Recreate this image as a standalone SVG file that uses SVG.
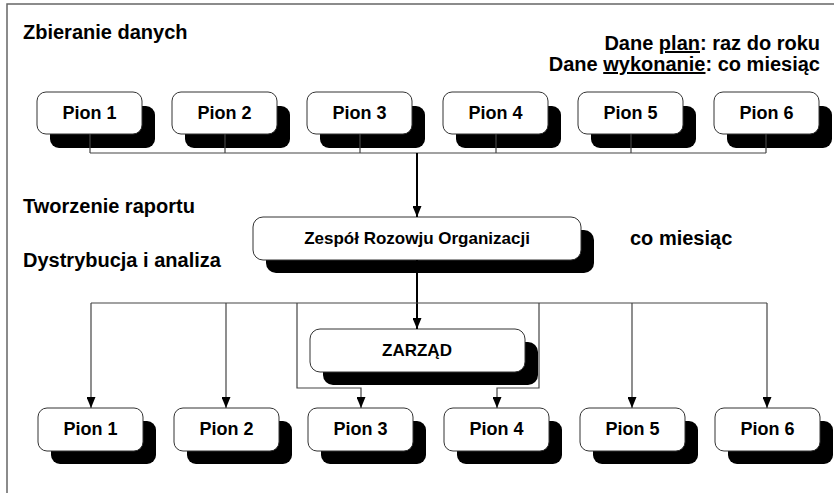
<svg xmlns="http://www.w3.org/2000/svg" width="834" height="493" viewBox="0 0 834 493">
  <style>
    .lbl { font-family: "Liberation Sans", Arial, sans-serif; font-weight: bold; font-size: 20px; fill: #000; }
    .box { fill: #fff; stroke: #333; stroke-width: 1; }
    .shadow { fill: #000; }
    .btxt { font-family: "Liberation Sans", Arial, sans-serif; font-weight: bold; font-size: 17px; fill: #000; text-anchor: middle; }
    .pion { font-size: 18px; }
    .thin { fill: none; stroke: #444; stroke-width: 1.2; }
    .thick { fill: none; stroke: #000; stroke-width: 2; }
    .frame { fill: none; stroke: #666; stroke-width: 1.5; }
  </style>
  <defs>
    <marker id="ah" markerUnits="userSpaceOnUse" markerWidth="11" markerHeight="9" refX="11" refY="4.5" orient="auto" viewBox="0 0 11 9">
      <path d="M0,0 L11,4.5 L0,9 Z" fill="#000"/>
    </marker>
  </defs>

  <rect width="834" height="493" fill="#fff"/>
  <!-- page frame (top and left edges) -->
  <path class="frame" d="M7,493 V4 H834"/>

  <!-- section headings -->
  <text class="lbl" x="23" y="39">Zbieranie danych</text>
  <text class="lbl" x="820" y="50" text-anchor="end">Dane <tspan text-decoration="underline">plan</tspan>: raz do roku</text>
  <text class="lbl" x="820" y="71" text-anchor="end">Dane <tspan text-decoration="underline">wykonanie</tspan>: co miesiąc</text>
  <text class="lbl" x="23" y="213">Tworzenie raportu</text>
  <text class="lbl" x="23" y="267">Dystrybucja i analiza</text>
  <text class="lbl" x="630" y="245">co miesiąc</text>

  <!-- top row: data sources -->
  <g id="top-pion-1"><rect class="shadow" x="50" y="106" width="105" height="42" rx="9"/><rect class="box" x="37" y="92" width="105" height="42" rx="9"/><text class="btxt pion" x="89.5" y="119">Pion 1</text></g>
  <g id="top-pion-2"><rect class="shadow" x="185" y="106" width="105" height="42" rx="9"/><rect class="box" x="172" y="92" width="105" height="42" rx="9"/><text class="btxt pion" x="224.5" y="119">Pion 2</text></g>
  <g id="top-pion-3"><rect class="shadow" x="320" y="106" width="105" height="42" rx="9"/><rect class="box" x="307" y="92" width="105" height="42" rx="9"/><text class="btxt pion" x="359.5" y="119">Pion 3</text></g>
  <g id="top-pion-4"><rect class="shadow" x="456" y="106" width="105" height="42" rx="9"/><rect class="box" x="443" y="92" width="105" height="42" rx="9"/><text class="btxt pion" x="495.5" y="119">Pion 4</text></g>
  <g id="top-pion-5"><rect class="shadow" x="591" y="106" width="105" height="42" rx="9"/><rect class="box" x="578" y="92" width="105" height="42" rx="9"/><text class="btxt pion" x="630.5" y="119">Pion 5</text></g>
  <g id="top-pion-6"><rect class="shadow" x="727" y="106" width="105" height="42" rx="9"/><rect class="box" x="714" y="92" width="105" height="42" rx="9"/><text class="btxt pion" x="766.5" y="119">Pion 6</text></g>

  <!-- report team -->
  <g id="zro"><rect class="shadow" x="266" y="230" width="328" height="43" rx="10"/><rect class="box" x="253" y="217" width="328" height="43" rx="10"/><text class="btxt" x="417" y="244">Zespół Rozowju Organizacji</text></g>

  <!-- board -->
  <g id="zarzad"><rect class="shadow" x="323" y="342" width="215" height="43" rx="10"/><rect class="box" x="310" y="329" width="215" height="43" rx="10"/><text class="btxt" x="417" y="356">ZARZĄD</text></g>

  <!-- bottom row: recipients -->
  <g id="bot-pion-1"><rect class="shadow" x="51" y="421" width="105" height="43" rx="9"/><rect class="box" x="38" y="408" width="105" height="43" rx="9"/><text class="btxt pion" x="90.5" y="435">Pion 1</text></g>
  <g id="bot-pion-2"><rect class="shadow" x="187" y="421" width="105" height="43" rx="9"/><rect class="box" x="174" y="408" width="105" height="43" rx="9"/><text class="btxt pion" x="226.5" y="435">Pion 2</text></g>
  <g id="bot-pion-3"><rect class="shadow" x="321" y="421" width="105" height="43" rx="9"/><rect class="box" x="308" y="408" width="105" height="43" rx="9"/><text class="btxt pion" x="360.5" y="435">Pion 3</text></g>
  <g id="bot-pion-4"><rect class="shadow" x="457" y="421" width="105" height="43" rx="9"/><rect class="box" x="444" y="408" width="105" height="43" rx="9"/><text class="btxt pion" x="496.5" y="435">Pion 4</text></g>
  <g id="bot-pion-5"><rect class="shadow" x="593" y="421" width="105" height="43" rx="9"/><rect class="box" x="580" y="408" width="105" height="43" rx="9"/><text class="btxt pion" x="632.5" y="435">Pion 5</text></g>
  <g id="bot-pion-6"><rect class="shadow" x="728" y="421" width="105" height="43" rx="9"/><rect class="box" x="715" y="408" width="105" height="43" rx="9"/><text class="btxt pion" x="767.5" y="435">Pion 6</text></g>

  <!-- connectors -->
  <g id="connectors">
    <!-- collection bus -->
    <path class="thin" d="M90,134 V153 M225,134 V153 M360,134 V153 M496,134 V153 M631,134 V153 M766,134 V153 M90,153 H766"/>
    <path class="thick" d="M417,153 V217" marker-end="url(#ah)"/>
    <!-- distribution bus -->
    <path class="thick" d="M417,260 V329" marker-end="url(#ah)"/>
    <path class="thin" d="M91,303 H767"/>
    <path class="thin" d="M91,303 V408" marker-end="url(#ah)"/>
    <path class="thin" d="M226,303 V408" marker-end="url(#ah)"/>
    <path class="thin" d="M632,303 V408" marker-end="url(#ah)"/>
    <path class="thin" d="M767,303 V408" marker-end="url(#ah)"/>
    <path class="thin" d="M297,303 V388 H361 V408" marker-end="url(#ah)"/>
    <path class="thin" d="M539,303 V388 H497 V408" marker-end="url(#ah)"/>
  </g>
</svg>
